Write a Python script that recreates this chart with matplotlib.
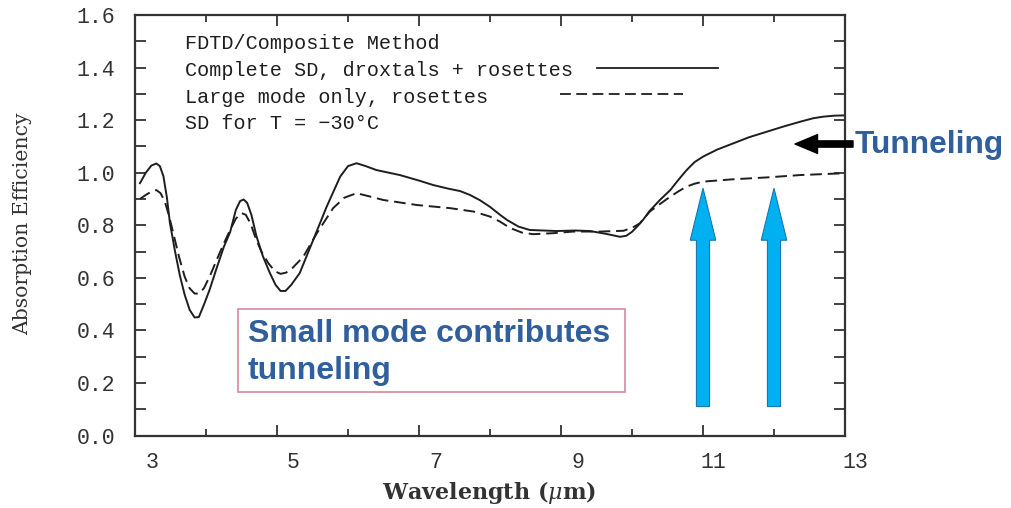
import numpy as np
import matplotlib
matplotlib.use("Agg")
import matplotlib.pyplot as plt
from matplotlib.patches import Rectangle
from matplotlib.transforms import ScaledTranslation

# wavelength (um) / absorption efficiency
wl_full = [3.07, 3.15, 3.23, 3.30, 3.35, 3.40, 3.45, 3.49, 3.56, 3.63, 3.70, 3.77,
           3.84, 3.90, 3.97, 4.05, 4.15, 4.25, 4.34, 4.42, 4.48, 4.53, 4.58, 4.64,
           4.71, 4.80, 4.90, 4.98, 5.05, 5.12, 5.20, 5.32, 5.51, 5.70, 5.89, 6.00,
           6.12, 6.25, 6.40, 6.73, 7.00, 7.20, 7.40, 7.58, 7.72, 7.86, 8.00, 8.14,
           8.24, 8.40, 8.56, 8.94, 9.20, 9.41, 9.64, 9.83, 9.92, 10.00, 10.08, 10.16,
           10.25, 10.40, 10.54, 10.66, 10.77, 10.88, 11.00, 11.20, 11.43, 11.65, 11.90, 12.15,
           12.37, 12.55, 12.69, 12.85, 13.00]
eff_full = [0.960, 0.999, 1.027, 1.035, 1.025, 0.987, 0.904, 0.812, 0.706, 0.611, 0.535, 0.478,
            0.449, 0.451, 0.497, 0.554, 0.637, 0.717, 0.774, 0.858, 0.892, 0.898, 0.885, 0.839,
            0.759, 0.683, 0.618, 0.573, 0.550, 0.550, 0.573, 0.618, 0.744, 0.871, 0.985, 1.025,
            1.036, 1.025, 1.010, 0.991, 0.970, 0.953, 0.940, 0.930, 0.915, 0.895, 0.870, 0.840,
            0.820, 0.795, 0.782, 0.778, 0.780, 0.778, 0.767, 0.756, 0.760, 0.775, 0.797, 0.822,
            0.855, 0.898, 0.934, 0.975, 1.010, 1.040, 1.061, 1.088, 1.112, 1.135, 1.156, 1.177,
            1.194, 1.207, 1.213, 1.217, 1.218]

wl_large = [3.07, 3.15, 3.23, 3.30, 3.36, 3.42, 3.48, 3.54, 3.62, 3.70, 3.77, 3.84,
            3.90, 3.97, 4.06, 4.15, 4.25, 4.34, 4.42, 4.50, 4.56, 4.63, 4.70, 4.78,
            4.88, 4.97, 5.05, 5.13, 5.22, 5.37, 5.56, 5.79, 5.95, 6.12, 6.30, 6.50,
            6.97, 7.44, 7.77, 8.00, 8.14, 8.28, 8.45, 8.61, 8.90, 9.17, 9.55, 9.88,
            10.00, 10.11, 10.25, 10.40, 10.54, 10.66, 10.77, 10.88, 11.00, 11.43, 11.90, 12.37,
            13.00]
eff_large = [0.900, 0.915, 0.928, 0.934, 0.922, 0.890, 0.835, 0.769, 0.680, 0.604, 0.560, 0.540,
             0.540, 0.560, 0.610, 0.668, 0.730, 0.782, 0.825, 0.846, 0.840, 0.805, 0.750, 0.700,
             0.655, 0.625, 0.615, 0.620, 0.638, 0.680, 0.769, 0.865, 0.905, 0.922, 0.910, 0.896,
             0.877, 0.865, 0.852, 0.833, 0.814, 0.790, 0.772, 0.766, 0.770, 0.776, 0.776, 0.779,
             0.790, 0.807, 0.852, 0.882, 0.909, 0.930, 0.947, 0.958, 0.966, 0.975, 0.982, 0.991,
             0.998]

arrow_wl = [11, 12]
arrow_base = 0.11
arrow_tip = 0.941

x_labels = ["3", "5", "7", "9", "11", "13"]

plt.rcParams['mathtext.fontset'] = 'dejavuserif'
mono = 'Liberation Mono'
ink = '#1e1e1e'
blue_txt = '#2f5f9c'

fig = plt.figure(figsize=(10.11, 5.08), dpi=100)
W, H = 1011, 508
ax = fig.add_axes([135 / W, 1 - 435.5 / H, 710 / W, 420.5 / H])

ax.plot(wl_full, eff_full, color=ink, lw=1.4)
ax.plot(wl_large, eff_large, color=ink, lw=1.4, ls=(0, (6, 3)))

for xw in arrow_wl:
    ax.arrow(xw, arrow_base, 0, arrow_tip - arrow_base, width=0.185, head_width=0.36,
             head_length=0.198, length_includes_head=True, fc='#00b0f0', ec='#1778b0', lw=0.8,
             zorder=3)

ax.set_xlim(3, 13)
ax.set_ylim(0, 1.6)
ax.set_xticks(np.arange(3, 14, 2))
ax.set_xticks(np.arange(4, 13, 2), minor=True)
ax.set_xticklabels(x_labels)
ax.set_yticks(np.arange(0, 1.61, 0.2))
ax.set_yticks(np.arange(0.1, 1.6, 0.2), minor=True)
ax.set_yticklabels(["%.1f" % v for v in np.arange(0, 1.61, 0.2)])
ax.tick_params(which='both', direction='in', top=True, right=True, colors='#333333',
               width=1.3, labelsize=15.5, labelcolor='#333333')
ax.tick_params(axis='x', which='major', length=8, pad=12)
ax.tick_params(axis='x', which='minor', length=5)
ax.tick_params(axis='y', which='both', length=8, pad=14)
for lab in ax.get_xticklabels() + ax.get_yticklabels():
    lab.set_family(mono)
for lab in ax.get_xticklabels():
    lab.set_horizontalalignment('right')
    lab.set_transform(lab.get_transform() + ScaledTranslation(0.23, 0, fig.dpi_scale_trans))
for sp in ax.spines.values():
    sp.set_linewidth(1.6)
    sp.set_color('#333333')

ax.set_xlabel(r'Wavelength ($\mu$m)', family='DejaVu Serif', fontweight='bold', fontsize=16,
              color='#333333', va='center')
ax.xaxis.set_label_coords((489 - 135) / 710, (435.5 - 493) / 420.5)
ax.set_ylabel('Absorption Efficiency', family='DejaVu Serif', fontsize=14.7, color='#333333',
              va='center')
ax.yaxis.set_label_coords((23 - 135) / 710, (435.5 - 224) / 420.5)

# legend block drawn by hand, as in the original
legend_lines = ["FDTD/Composite Method", "Complete SD, droxtals + rosettes",
                "Large mode only, rosettes", "SD for T = \u221230\u00b0C"]
for txt, py in zip(legend_lines, [43, 70, 97, 123]):
    ax.text((185 - 135) / 710, (435.5 - py) / 420.5, txt, transform=ax.transAxes,
            family=mono, fontsize=14.5, color=ink, va='center')
ax.plot([0.651, 0.821], [0.873, 0.873], color=ink, lw=1.3, transform=ax.transAxes)
ax.plot([0.599, 0.772], [0.811, 0.811], color=ink, lw=1.3, ls=(0, (6, 3)), transform=ax.transAxes)

# annotations
fig.text(855 / W, 1 - 145 / H, 'Tunneling', family='Liberation Sans', fontweight='bold',
         fontsize=22.8, color=blue_txt, va='center', ha='left')
ax.annotate('', xy=(795, H - 144), xytext=(853, H - 144), xycoords='figure pixels',
            textcoords='figure pixels', annotation_clip=False,
            arrowprops=dict(arrowstyle='simple,head_length=0.9,head_width=0.75,tail_width=0.25',
                            mutation_scale=18, fc='black', ec='black', shrinkA=0, shrinkB=0))

fig.add_artist(Rectangle((238 / W, 1 - 392 / H), 387 / W, 83 / H, transform=fig.transFigure,
                         fill=False, ec='#d48a9c', lw=1.2))
fig.text(248 / W, 1 - 334 / H, 'Small mode contributes', family='Liberation Sans',
         fontweight='bold', fontsize=23, color=blue_txt, va='center', ha='left')
fig.text(248 / W, 1 - 371 / H, 'tunneling', family='Liberation Sans',
         fontweight='bold', fontsize=23, color=blue_txt, va='center', ha='left')

fig.savefig('out.png', dpi=100)
